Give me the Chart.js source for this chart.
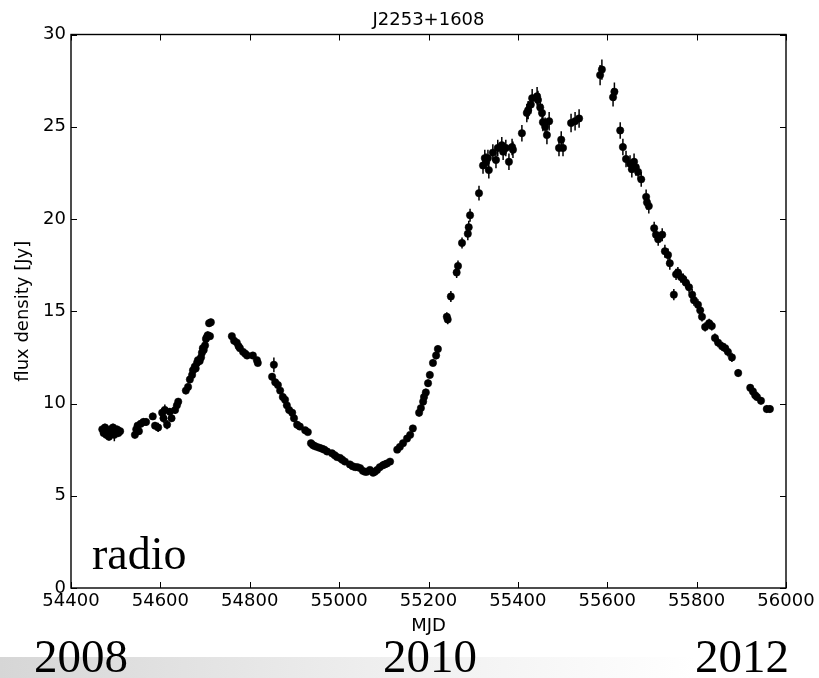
<!DOCTYPE html>
<html>
<head>
<meta charset="utf-8">
<title>J2253+1608 radio light curve</title>
<script src="https://cdn.jsdelivr.net/npm/chart.js@4/dist/chart.umd.min.js"></script>
<style>
  html, body { margin: 0; padding: 0; background: #ffffff; }
  canvas { display: block; }
</style>
</head>
<body>
<canvas id="lightcurve" width="819" height="678"></canvas>
<script>
// Observation epochs (MJD)
const mjd = [
  54470, 54473, 54476, 54479, 54482, 54485, 54488, 54491, 54494, 54497, 54500, 54503, 54506, 54510,
  54543, 54546, 54549, 54552, 54556, 54562, 54568,
  54583, 54588, 54595, 54604, 54607, 54610, 54615, 54621, 54625, 54633, 54637, 54640,
  54657, 54662, 54666, 54671, 54673, 54677, 54679, 54682, 54684, 54688, 54691, 54693, 54695, 54697, 54700, 54702, 54704, 54706, 54709, 54711, 54713,
  54760, 54765, 54771, 54775, 54778, 54785, 54790, 54794, 54807, 54816, 54818,
  54850, 54854, 54857, 54863, 54868, 54874, 54879, 54883, 54888, 54895, 54899, 54906, 54912, 54924, 54930,
  54937, 54941, 54945, 54950, 54956, 54962, 54967, 54973, 54984, 54990, 54995, 55002, 55007, 55013, 55024, 55030, 55036, 55041, 55047, 55053, 55058, 55062, 55069, 55076, 55080, 55085, 55091, 55098, 55102, 55107, 55114,
  55130, 55136, 55143, 55152, 55159, 55165, 55179, 55183, 55188, 55190, 55194, 55199, 55203, 55210, 55217, 55221,
  55241, 55243, 55250, 55263, 55266, 55275, 55288, 55290, 55293, 55313,
  55322, 55326, 55329, 55333, 55335, 55344, 55351, 55355, 55364, 55367, 55373, 55380, 55387, 55389, 55409,
  55420, 55423, 55429, 55432, 55443, 55445, 55450, 55454, 55456, 55461, 55465, 55470,
  55492, 55497, 55501, 55519, 55528, 55537,
  55584, 55588, 55613, 55616, 55629, 55635, 55642, 55651, 55655, 55660, 55664, 55669, 55676, 55687, 55689, 55693,
  55705, 55709, 55714, 55723, 55729, 55736, 55740, 55749, 55754, 55758, 55765, 55770, 55776, 55783, 55790, 55794, 55803, 55808, 55812,
  55819, 55828, 55834, 55841, 55848, 55857, 55864, 55870, 55879, 55893, 55920, 55926, 55931, 55935, 55944, 55957, 55964
];

// Flux density (Jy)
const flux = [
  8.6, 8.4, 8.7, 8.3, 8.5, 8.2, 8.6, 8.4, 8.7, 8.3, 8.5, 8.6, 8.4, 8.5,
  8.3, 8.6, 8.8, 8.5, 8.9, 9.0, 9.0,
  9.3, 8.8, 8.7, 9.5, 9.2, 9.65, 8.85, 9.55, 9.2, 9.65, 9.9, 10.1,
  10.7, 10.9, 11.3, 11.55, 11.8, 12.0, 11.9, 12.2, 12.35, 12.3, 12.5, 12.75, 13.0, 12.9, 13.15, 13.5, 13.6, 13.7, 14.35, 13.65, 14.4,
  13.65, 13.4, 13.3, 13.1, 13.0, 12.8, 12.7, 12.6, 12.6, 12.35, 12.2,
  11.45, 12.1, 11.15, 11.0, 10.7, 10.35, 10.2, 9.9, 9.65, 9.5, 9.2, 8.85, 8.75, 8.55, 8.45,
  7.85, 7.75, 7.7, 7.65, 7.6, 7.55, 7.5, 7.4, 7.3, 7.2, 7.1, 7.05, 6.95, 6.85, 6.7, 6.6, 6.55, 6.55, 6.5, 6.35, 6.3, 6.3, 6.4, 6.25, 6.3, 6.4, 6.55, 6.65, 6.7, 6.75, 6.85,
  7.5, 7.65, 7.85, 8.1, 8.3, 8.65, 9.5, 9.75, 10.1, 10.35, 10.6, 11.1, 11.55, 12.2, 12.6, 12.95,
  14.7, 14.55, 15.8, 17.1, 17.45, 18.7, 19.2, 19.55, 20.2, 21.4,
  22.9, 23.3, 23.1, 23.3, 22.65, 23.6, 23.2, 23.85, 24.0, 23.65, 23.85, 23.1, 23.9, 23.75, 24.65,
  25.75, 25.9, 26.2, 26.55, 26.65, 26.45, 26.05, 25.75, 25.25, 25.0, 24.55, 25.3,
  23.85, 24.3, 23.85, 25.2, 25.3, 25.45,
  27.8, 28.1, 26.6, 26.9, 24.8, 23.9, 23.25, 23.0, 22.7, 23.1, 22.8, 22.55, 22.15, 21.2, 20.9, 20.7,
  19.5, 19.15, 18.9, 19.15, 18.25, 18.05, 17.6, 15.9, 17.0, 17.1, 16.85, 16.75, 16.55, 16.3, 15.9, 15.6, 15.35, 15.05, 14.7,
  14.15, 14.35, 14.2, 13.55, 13.3, 13.1, 13.0, 12.8, 12.5, 11.65, 10.85, 10.65, 10.45, 10.35, 10.15, 9.7, 9.7
];

// 1-sigma uncertainty of the flux density (Jy)
const fluxErr = [
  0.2, 0.2, 0.2, 0.2, 0.2, 0.2, 0.2, 0.2, 0.2, 0.35, 0.2, 0.2, 0.2, 0.2,
  0.2, 0.2, 0.2, 0.2, 0.2, 0.2, 0.2,
  0.2, 0.2, 0.25, 0.25, 0.25, 0.3, 0.25, 0.2, 0.2, 0.2, 0.2, 0.2,
  0.2, 0.2, 0.2, 0.2, 0.2, 0.2, 0.2, 0.2, 0.2, 0.2, 0.2, 0.2, 0.2, 0.2, 0.2, 0.2, 0.2, 0.2, 0.2, 0.2, 0.2,
  0.15, 0.15, 0.15, 0.15, 0.15, 0.15, 0.15, 0.15, 0.15, 0.15, 0.2,
  0.2, 0.4, 0.2, 0.2, 0.2, 0.2, 0.2, 0.2, 0.2, 0.2, 0.2, 0.2, 0.15, 0.15, 0.15,
  0.15, 0.15, 0.15, 0.15, 0.15, 0.15, 0.15, 0.15, 0.15, 0.15, 0.15, 0.15, 0.15, 0.15, 0.15, 0.15, 0.15, 0.15, 0.15, 0.15, 0.15, 0.15, 0.15, 0.15, 0.15, 0.15, 0.15, 0.15, 0.15, 0.15, 0.15,
  0.15, 0.15, 0.15, 0.15, 0.15, 0.15, 0.2, 0.2, 0.2, 0.2, 0.2, 0.2, 0.2, 0.2, 0.2, 0.2,
  0.25, 0.25, 0.3, 0.3, 0.3, 0.3, 0.35, 0.35, 0.35, 0.4,
  0.45, 0.45, 0.45, 0.45, 0.45, 0.45, 0.45, 0.45, 0.45, 0.45, 0.45, 0.45, 0.45, 0.45, 0.45,
  0.5, 0.5, 0.5, 0.5, 0.5, 0.5, 0.5, 0.5, 0.5, 0.5, 0.5, 0.5,
  0.45, 0.45, 0.45, 0.5, 0.5, 0.5,
  0.55, 0.55, 0.5, 0.5, 0.45, 0.45, 0.45, 0.45, 0.45, 0.45, 0.45, 0.4, 0.4, 0.4, 0.4, 0.4,
  0.35, 0.35, 0.35, 0.35, 0.35, 0.35, 0.35, 0.3, 0.3, 0.3, 0.3, 0.3, 0.3, 0.3, 0.3, 0.3, 0.3, 0.3, 0.25,
  0.25, 0.25, 0.25, 0.25, 0.25, 0.25, 0.25, 0.25, 0.25, 0.2, 0.2, 0.2, 0.2, 0.2, 0.2, 0.2, 0.2
];

// Axis tick values
const xTickValues = [54400, 54600, 54800, 55000, 55200, 55400, 55600, 55800, 56000];
const yTickValues = [0, 5, 10, 15, 20, 25, 30];

// Text
const titleText = 'J2253+1608';
const xLabel = 'MJD';
const yLabel = 'flux density [Jy]';
const bandLabel = 'radio';
const yearLabels = ['2008', '2010', '2012'];

const points = mjd.map((m, i) => ({ x: m, y: flux[i], err: fluxErr[i] }));

const sansFont = "'DejaVu Sans', sans-serif";
const serifFont = "'Liberation Serif', 'DejaVu Serif', serif";

// Vertical error bars, drawn underneath the markers
const errorBars = {
  id: 'errorBars',
  beforeDatasetsDraw(chart) {
    const { ctx, chartArea, scales: { x, y } } = chart;
    ctx.save();
    ctx.beginPath();
    ctx.rect(chartArea.left, chartArea.top, chartArea.width, chartArea.height);
    ctx.clip();
    ctx.strokeStyle = '#000';
    ctx.lineWidth = 1.5;
    ctx.beginPath();
    points.forEach(p => {
      const px = x.getPixelForValue(p.x);
      ctx.moveTo(px, y.getPixelForValue(p.y + p.err));
      ctx.lineTo(px, y.getPixelForValue(p.y - p.err));
    });
    ctx.stroke();
    ctx.restore();
  }
};

// Axes frame with inward ticks on all four sides
const frameAndTicks = {
  id: 'frameAndTicks',
  afterDatasetsDraw(chart) {
    const { ctx, chartArea: a, scales: { x, y } } = chart;
    const len = 6;
    ctx.save();
    ctx.strokeStyle = '#000';
    ctx.lineWidth = 1;
    ctx.beginPath();
    xTickValues.forEach(v => {
      const px = Math.round(x.getPixelForValue(v)) + 0.5;
      ctx.moveTo(px, a.bottom); ctx.lineTo(px, a.bottom - len);
      ctx.moveTo(px, a.top); ctx.lineTo(px, a.top + len);
    });
    yTickValues.forEach(v => {
      const py = Math.round(y.getPixelForValue(v)) + 0.5;
      ctx.moveTo(a.left, py); ctx.lineTo(a.left + len, py);
      ctx.moveTo(a.right, py); ctx.lineTo(a.right - len, py);
    });
    ctx.stroke();
    ctx.lineWidth = 1.4;
    ctx.strokeRect(a.left, a.top, a.right - a.left, a.bottom - a.top);
    ctx.restore();
  }
};

// Grey strip along the bottom of the figure
const bottomStrip = {
  id: 'bottomStrip',
  beforeDraw(chart) {
    const { ctx, width, height } = chart;
    ctx.save();
    const g = ctx.createLinearGradient(0, 0, width, 0);
    g.addColorStop(0, '#d6d6d6');
    g.addColorStop(0.45, '#eeeeee');
    g.addColorStop(0.85, '#ffffff');
    ctx.fillStyle = g;
    ctx.fillRect(0, 657, width, height - 657);
    ctx.restore();
  }
};

// Title, axis labels, band label and year markers
const annotations = {
  id: 'annotations',
  afterDraw(chart) {
    const { ctx, chartArea: a } = chart;
    const cx = (a.left + a.right) / 2;
    ctx.save();
    ctx.fillStyle = '#000';

    ctx.font = '18px ' + sansFont;
    ctx.textAlign = 'center';
    ctx.textBaseline = 'alphabetic';
    ctx.fillText(titleText, cx, 25);
    ctx.fillText(xLabel, cx, 631);

    ctx.save();
    ctx.translate(28, (a.top + a.bottom) / 2);
    ctx.rotate(-Math.PI / 2);
    ctx.fillText(yLabel, 0, 0);
    ctx.restore();

    ctx.textAlign = 'left';
    ctx.font = '46px ' + serifFont;
    ctx.fillText(bandLabel, 92, 569);

    ctx.font = '47px ' + serifFont;
    ctx.fillText(yearLabels[0], 34, 672);
    ctx.fillText(yearLabels[1], 383, 672);
    ctx.fillText(yearLabels[2], 695, 672);
    ctx.restore();
  }
};

new Chart(document.getElementById('lightcurve'), {
  type: 'scatter',
  data: {
    datasets: [{
      data: points,
      pointRadius: 3.7,
      pointHoverRadius: 3.7,
      pointBackgroundColor: '#000',
      pointBorderColor: '#000',
      pointBorderWidth: 0.5
    }]
  },
  options: {
    responsive: false,
    devicePixelRatio: 1,
    animation: false,
    events: [],
    layout: { padding: { left: 0, right: 33, top: 34.5, bottom: 0 } },
    plugins: {
      legend: { display: false },
      title: { display: false },
      tooltip: { enabled: false }
    },
    scales: {
      x: {
        type: 'linear',
        position: 'bottom',
        min: 54400,
        max: 56000,
        grid: { display: false, drawTicks: false },
        border: { display: false },
        ticks: {
          stepSize: 200,
          autoSkip: false,
          maxRotation: 0,
          minRotation: 0,
          padding: 3,
          color: '#000',
          font: { family: sansFont, size: 18 },
          callback: v => String(v)
        },
        afterFit(s) { s.height = 90; s.paddingLeft = 0; s.paddingRight = 0; }
      },
      y: {
        type: 'linear',
        min: 0,
        max: 30,
        grid: { display: false, drawTicks: false },
        border: { display: false },
        ticks: {
          stepSize: 5,
          padding: 5,
          color: '#000',
          font: { family: sansFont, size: 18 },
          callback: v => String(v)
        },
        afterFit(s) { s.width = 71; s.paddingTop = 0; s.paddingBottom = 0; }
      }
    }
  },
  plugins: [bottomStrip, errorBars, frameAndTicks, annotations]
});
</script>
</body>
</html>
